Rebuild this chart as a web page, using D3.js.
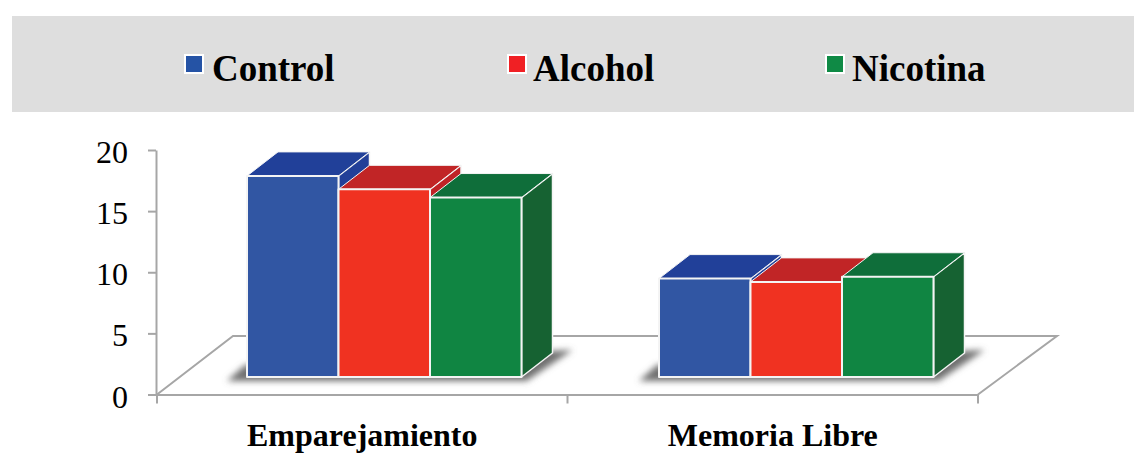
<!DOCTYPE html>
<html>
<head>
<meta charset="utf-8">
<script src="https://cdn.jsdelivr.net/npm/d3@7"></script>
<style>
  html, body { margin: 0; padding: 0; background: #fff; }
  svg { display: block; }
  text { font-family: "Liberation Serif", "Times New Roman", serif; fill: #000; }
</style>
</head>
<body>
<svg id="chart" width="1134" height="453"></svg>
<script>
const categories = ["Emparejamiento", "Memoria Libre"];
const seriesNames = ["Control", "Alcohol", "Nicotina"];
const controlValues = [16.45, 8.05];
const alcoholValues = [15.35, 7.78];
const nicotinaValues = [14.68, 8.2];
const yTicks = [0, 5, 10, 15, 20];

const frontColors = ["#3156a3", "#f03221", "#108542"];
const topColors = ["#214099", "#c12526", "#0f6e3a"];
const sideColors = ["#223f98", "#c02226", "#166232"];
const legendColors = ["#2553a5", "#f02024", "#0f8a45"];
const legendSwatchX = [185, 508, 826];
const legendTextX = [212, 533, 852];

const valuesBySeries = [controlValues, alcoholValues, nicotinaValues];
const axisGrey = "#a6a6a6";

const svg = d3.select("#chart");

// Oblique projection: depth is drawn as a shift up and to the right.
const depth = { dx: 31, dy: -24 };
const floorDepth = { dx: 76, dy: -58.5 };
const frontLift = 17.5;   // bars stand part way back on the floor
const frontShift = [22, 23.5];

const y = d3.scaleLinear().domain([0, 20]).range([394.5, 150]);
const x = d3.scaleBand().domain(categories).range([157, 978]);
const inner = d3.scaleBand().domain(seriesNames).range([0, 274.5]);

// Legend band
svg.append("rect").attr("x", 12).attr("y", 16).attr("width", 1122).attr("height", 96).attr("fill", "#dedede");
const legend = svg.append("g").selectAll("g").data(seriesNames).join("g");
legend.append("rect")
  .attr("x", (d, i) => legendSwatchX[i]).attr("y", 55)
  .attr("width", 18).attr("height", 18)
  .attr("fill", (d, i) => legendColors[i])
  .attr("stroke", "#fff").attr("stroke-width", 2);
legend.append("text")
  .attr("x", (d, i) => legendTextX[i]).attr("y", 81)
  .attr("font-size", 37).attr("font-weight", "bold")
  .text(d => d);

// Floor plane
const [fx0, fx1] = x.range();
const fy = y(0);
const lineGen = d3.line();
svg.append("path")
  .attr("d", lineGen([
    [fx0, fy],
    [fx0 + floorDepth.dx, fy + floorDepth.dy],
    [fx1 + floorDepth.dx + 3, fy + floorDepth.dy],
    [fx1, fy]
  ]))
  .attr("fill", "none").attr("stroke", axisGrey).attr("stroke-width", 2);

// Value axis
const yAxis = svg.append("g").attr("transform", "translate(156,0)")
  .call(d3.axisLeft(y).tickValues(yTicks).tickSize(8).tickPadding(20).tickSizeOuter(0));
yAxis.selectAll("path, line").attr("stroke", axisGrey).attr("stroke-width", 2);
yAxis.selectAll("text").attr("font-size", 32).attr("dy", 12.5)
  .attr("font-family", "Liberation Serif").attr("fill", "#000");

// Category axis: labels centred in each band, ticks on the band edges
const xAxis = svg.append("g").attr("transform", `translate(0,${fy})`)
  .call(d3.axisBottom(x).tickSize(0).tickPadding(29));
xAxis.select("path").attr("stroke", axisGrey).attr("stroke-width", 2);
xAxis.selectAll("text").attr("font-size", 32).attr("font-weight", "bold")
  .attr("font-family", "Liberation Serif").attr("fill", "#000");
const edges = [...categories.map(c => x(c)), fx1];
xAxis.selectAll("line.edge").data(edges).join("line").attr("class", "edge")
  .attr("x1", d => d).attr("x2", d => d).attr("y1", 0).attr("y2", 9)
  .attr("stroke", axisGrey).attr("stroke-width", 2);

// Soft shadow and bars for each category
const defs = svg.append("defs");
defs.append("filter").attr("id", "soft")
  .attr("x", "-10%").attr("y", "-40%").attr("width", "120%").attr("height", "180%")
  .append("feGaussianBlur").attr("stdDeviation", 3);

const base = fy - frontLift;
categories.forEach((cat, c) => {
  const left = x(cat) + frontShift[c] + (x.bandwidth() - inner.range()[1]) / 2;
  const right = left + inner.range()[1];

  svg.append("path")
    .attr("d", lineGen([
      [left - 20, base + 4],
      [left - 2, base - 12],
      [right + depth.dx + 20, base + depth.dy - 3],
      [right + depth.dx - 26, base + 4]
    ]) + "Z")
    .attr("fill", "#707070").attr("filter", "url(#soft)");

  seriesNames.forEach((name, s) => {
    const v = valuesBySeries[s][c];
    const x0 = left + inner(name);
    const x1 = x0 + inner.bandwidth();
    const yTop = base - (y(0) - y(v));
    const g = svg.append("g").attr("stroke", "#f4f4f4").attr("stroke-width", 2).attr("stroke-linejoin", "round");
    g.append("path").attr("fill", sideColors[s]).attr("stroke-width", 1.5)
      .attr("d", lineGen([[x1, yTop], [x1 + depth.dx, yTop + depth.dy], [x1 + depth.dx, base + depth.dy], [x1, base]]) + "Z");
    g.append("path").attr("fill", topColors[s]).attr("stroke-width", 1)
      .attr("d", lineGen([[x0, yTop], [x0 + depth.dx, yTop + depth.dy], [x1 + depth.dx, yTop + depth.dy], [x1, yTop]]) + "Z");
    g.append("rect").attr("fill", frontColors[s])
      .attr("x", x0).attr("y", yTop).attr("width", x1 - x0).attr("height", base - yTop);
  });
});
</script>
</body>
</html>
